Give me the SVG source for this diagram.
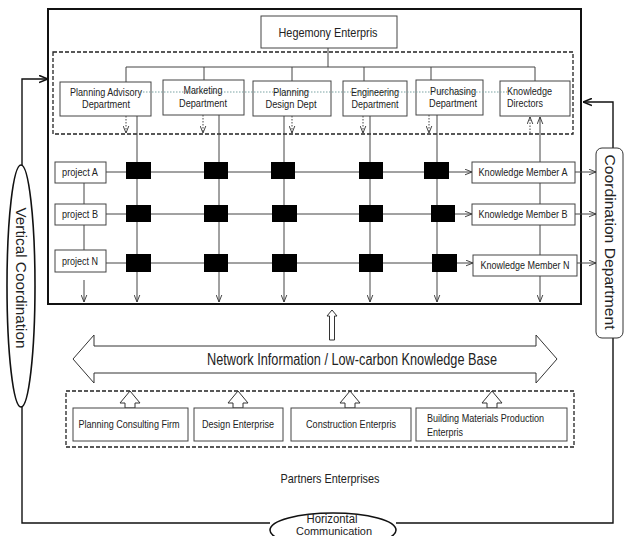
<svg xmlns="http://www.w3.org/2000/svg" width="627" height="536" viewBox="0 0 627 536">
<style>
text{font-family:"Liberation Sans",Arial,sans-serif;fill:#222}
.box{fill:#fff;stroke:#444;stroke-width:1}
.dash{fill:none;stroke:#222;stroke-width:1.3;stroke-dasharray:4,2}
.ln{fill:none;stroke:#444;stroke-width:1}
.dot{fill:none;stroke:#444;stroke-width:1;stroke-dasharray:1.5,1.5}
.blk{fill:#000}
.thk{fill:none;stroke:#111;stroke-width:1.4}
.t11{font-size:11px}
.t13{font-size:13px}
.c{text-anchor:middle}
</style>
<defs>
<marker id="ah" viewBox="0 0 10 10" refX="10" refY="5" markerWidth="7" markerHeight="7" markerUnits="userSpaceOnUse" orient="auto"><path d="M0,1 L10,5 L0,9" fill="none" stroke="#333" stroke-width="1.3"/></marker>
<marker id="ahb" viewBox="0 0 10 10" refX="10" refY="5" markerWidth="9" markerHeight="9" markerUnits="userSpaceOnUse" orient="auto"><path d="M0,1 L10,5 L0,9" fill="none" stroke="#111" stroke-width="1.8"/></marker>
</defs>

<!-- main frame -->
<rect x="48" y="9" width="533" height="295" fill="none" stroke="#111" stroke-width="2"/>
<rect class="dash" x="53" y="52" width="520" height="82"/>
<rect class="dash" x="66" y="391" width="508" height="56"/>

<g id="connectors">
  <path class="ln" d="M328,48 V67 M126,67 H535 M126,67 V82 M204,67 V80 M292,67 V81 M364,67 V81 M431,67 V80 M535,67 V81"/>
  <path class="dot" d="M126,116 V133" marker-end="url(#ah)"/>
  <path class="dot" d="M203,115 V133" marker-end="url(#ah)"/>
  <path class="dot" d="M292,116 V133" marker-end="url(#ah)"/>
  <path class="dot" d="M363,116 V133" marker-end="url(#ah)"/>
  <path class="dot" d="M429,115 V133" marker-end="url(#ah)"/>
  <path class="dot" d="M530,133 V117" marker-end="url(#ah)"/>
  <path class="ln" d="M137,116 V302" marker-end="url(#ah)"/>
  <path class="ln" d="M219,115 V302" marker-end="url(#ah)"/>
  <path class="ln" d="M284,116 V302" marker-end="url(#ah)"/>
  <path class="ln" d="M370,116 V302" marker-end="url(#ah)"/>
  <path class="ln" d="M437,115 V302" marker-end="url(#ah)"/>
  <path class="ln" d="M540,162 V117" marker-end="url(#ah)"/>
  <path class="ln" d="M540,183 V204 M540,225 V255"/>
  <path class="ln" d="M540,276 V302" marker-end="url(#ah)"/>
  <path class="ln" d="M84,183 V204 M84,225 V250"/>
  <path class="ln" d="M84,280 V302" marker-end="url(#ah)"/>
  <path class="ln" d="M106,172 H472" marker-end="url(#ah)"/>
  <path class="ln" d="M106,214 H472" marker-end="url(#ah)"/>
  <path class="ln" d="M106,263 H473" marker-end="url(#ah)"/>
  <path class="ln" d="M575,172 H596" marker-end="url(#ah)"/>
  <path class="ln" d="M575,214 H596" marker-end="url(#ah)"/>
  <path class="ln" d="M577,263 H596" marker-end="url(#ah)"/>
  <path class="thk" d="M22,165 V79 H48" marker-end="url(#ahb)"/>
  <path class="thk" d="M22,407 V523 H270"/>
  <path class="thk" d="M396,523 H613 V338"/>
  <path class="thk" d="M613,148 V102 H583" marker-end="url(#ahb)"/>
  <polygon points="332,310 337,316 334.5,316 334.5,340 329.5,340 329.5,316 327,316" fill="#fff" stroke="#333" stroke-width="1"/>
  <polygon points="130,391 140,403 135,403 135,408 125,408 125,403 120,403" fill="#fff" stroke="#333" stroke-width="1"/>
  <polygon points="238,391 248,403 243,403 243,408 233,408 233,403 228,403" fill="#fff" stroke="#333" stroke-width="1"/>
  <polygon points="350,391 360,403 355,403 355,408 345,408 345,403 340,403" fill="#fff" stroke="#333" stroke-width="1"/>
  <polygon points="492,391 502,403 497,403 497,408 487,408 487,403 482,403" fill="#fff" stroke="#333" stroke-width="1"/>
</g>

<g id="hegemony"><rect class="box" x="261" y="16" width="136" height="32"/><text class="t13 c" x="328" y="37" textLength="99" lengthAdjust="spacingAndGlyphs">Hegemony Enterpris</text></g>

<g id="dept-pa"><rect class="box" x="60" y="82" width="91" height="34"/></g>
<g id="dept-mk"><rect class="box" x="163" y="80" width="81" height="35"/></g>
<g id="dept-pd"><rect class="box" x="253" y="81" width="78" height="35"/></g>
<g id="dept-en"><rect class="box" x="343" y="81" width="64" height="35"/></g>
<g id="dept-pu"><rect class="box" x="416" y="80" width="67" height="35"/></g>
<g id="dept-kd"><rect class="box" x="500" y="81" width="70" height="35"/></g>
<path d="M140,92 H507" fill="none" stroke="#7aa3a3" stroke-width="1" stroke-dasharray="1.5,1.5"/>
<g id="dept-labels">
<text class="t11 c" x="106" y="96" textLength="72" lengthAdjust="spacingAndGlyphs">Planning Advisory</text>
<text class="t11 c" x="106" y="108" textLength="48" lengthAdjust="spacingAndGlyphs">Department</text>
<text class="t11 c" x="203" y="94" textLength="39" lengthAdjust="spacingAndGlyphs">Marketing</text>
<text class="t11 c" x="203" y="107" textLength="48" lengthAdjust="spacingAndGlyphs">Department</text>
<text class="t11 c" x="291" y="96" textLength="36" lengthAdjust="spacingAndGlyphs">Planning</text>
<text class="t11 c" x="291" y="108" textLength="51" lengthAdjust="spacingAndGlyphs">Design Dept</text>
<text class="t11 c" x="375" y="96" textLength="48" lengthAdjust="spacingAndGlyphs">Engineering</text>
<text class="t11 c" x="375" y="108" textLength="47" lengthAdjust="spacingAndGlyphs">Department</text>
<text class="t11 c" x="453" y="95" textLength="46" lengthAdjust="spacingAndGlyphs">Purchasing</text>
<text class="t11 c" x="453" y="107" textLength="48" lengthAdjust="spacingAndGlyphs">Department</text>
<text class="t11" x="507" y="95" textLength="45" lengthAdjust="spacingAndGlyphs">Knowledge</text>
<text class="t11" x="507" y="107" textLength="36" lengthAdjust="spacingAndGlyphs">Directors</text>
</g>

<g id="proj-a"><rect class="box" x="55" y="162" width="51" height="21"/><text class="t11 c" x="80" y="176" textLength="36" lengthAdjust="spacingAndGlyphs">project A</text></g>
<g id="proj-b"><rect class="box" x="55" y="204" width="51" height="21"/><text class="t11 c" x="80" y="218" textLength="36" lengthAdjust="spacingAndGlyphs">project B</text></g>
<g id="proj-n"><rect class="box" x="55" y="250" width="51" height="22"/><text class="t11 c" x="80" y="265" textLength="36" lengthAdjust="spacingAndGlyphs">project N</text></g>

<g id="squares">
<rect class="blk" x="126" y="162" width="25" height="17"/><rect class="blk" x="204" y="162" width="24" height="17"/><rect class="blk" x="271" y="162" width="24" height="17"/><rect class="blk" x="359" y="162" width="24" height="17"/><rect class="blk" x="424" y="162" width="25" height="17"/>
<rect class="blk" x="126" y="205" width="25" height="17"/><rect class="blk" x="204" y="205" width="24" height="17"/><rect class="blk" x="272" y="205" width="25" height="17"/><rect class="blk" x="359" y="205" width="24" height="17"/><rect class="blk" x="431" y="205" width="24" height="17"/>
<rect class="blk" x="126" y="254" width="25" height="18"/><rect class="blk" x="204" y="254" width="24" height="18"/><rect class="blk" x="272" y="254" width="25" height="18"/><rect class="blk" x="359" y="254" width="24" height="18"/><rect class="blk" x="432" y="254" width="25" height="18"/>
</g>

<g id="km-a"><rect class="box" x="472" y="162" width="103" height="21"/><text class="t11 c" x="523" y="176" textLength="89" lengthAdjust="spacingAndGlyphs">Knowledge Member A</text></g>
<g id="km-b"><rect class="box" x="472" y="204" width="103" height="21"/><text class="t11 c" x="523" y="218" textLength="89" lengthAdjust="spacingAndGlyphs">Knowledge Member B</text></g>
<g id="km-n"><rect class="box" x="473" y="255" width="104" height="21"/><text class="t11 c" x="525" y="269" textLength="89" lengthAdjust="spacingAndGlyphs">Knowledge Member N</text></g>

<g id="coord-dept"><rect x="596" y="148" width="27" height="190" rx="6" fill="#fff" stroke="#333" stroke-width="1"/><text class="c" font-size="15.5" transform="translate(604.5,242) rotate(90)" textLength="175" lengthAdjust="spacingAndGlyphs">Coordination Department</text></g>

<g id="vert-coord"><ellipse cx="21" cy="286" rx="14" ry="121" fill="#fff" stroke="#111" stroke-width="1.6"/><text class="c" font-size="15" transform="translate(16,278) rotate(90)" textLength="141" lengthAdjust="spacingAndGlyphs">Vertical Coordination</text></g>

<g id="knowledge-base"><polygon points="73,359 94,335 94,346 536,346 536,335 557,359 536,383 536,373 94,373 94,383" fill="#fff" stroke="#333" stroke-width="1"/><text class="c" font-size="16" x="352" y="365" textLength="290" lengthAdjust="spacingAndGlyphs">Network Information / Low-carbon Knowledge Base</text></g>

<g id="p-plan"><rect class="box" x="73" y="408" width="115" height="33"/><text class="t11 c" x="129" y="428" textLength="101" lengthAdjust="spacingAndGlyphs">Planning Consulting Firm</text></g>
<g id="p-design"><rect class="box" x="194" y="408" width="89" height="33"/><text class="t11 c" x="238" y="428" textLength="72" lengthAdjust="spacingAndGlyphs">Design Enterprise</text></g>
<g id="p-constr"><rect class="box" x="291" y="408" width="120" height="33"/><text class="t11 c" x="351" y="428" textLength="90" lengthAdjust="spacingAndGlyphs">Construction Enterpris</text></g>
<g id="p-build"><rect class="box" x="416" y="408" width="151" height="33"/><text class="t11" x="427" y="422" textLength="117" lengthAdjust="spacingAndGlyphs">Building Materials Production</text><text class="t11" x="427" y="436" textLength="36" lengthAdjust="spacingAndGlyphs">Enterpris</text></g>
<text id="partners-label" class="c" font-size="13" x="330" y="483" textLength="99" lengthAdjust="spacingAndGlyphs">Partners Enterprises</text>

<g id="horiz-comm"><ellipse cx="333" cy="530" rx="63" ry="17" fill="#fff" stroke="#111" stroke-width="1.6"/><text class="c" font-size="12" x="332" y="523" textLength="51" lengthAdjust="spacingAndGlyphs">Horizontal</text><text class="c" font-size="11.5" x="334" y="535" textLength="76" lengthAdjust="spacingAndGlyphs">Communication</text></g>
</svg>
